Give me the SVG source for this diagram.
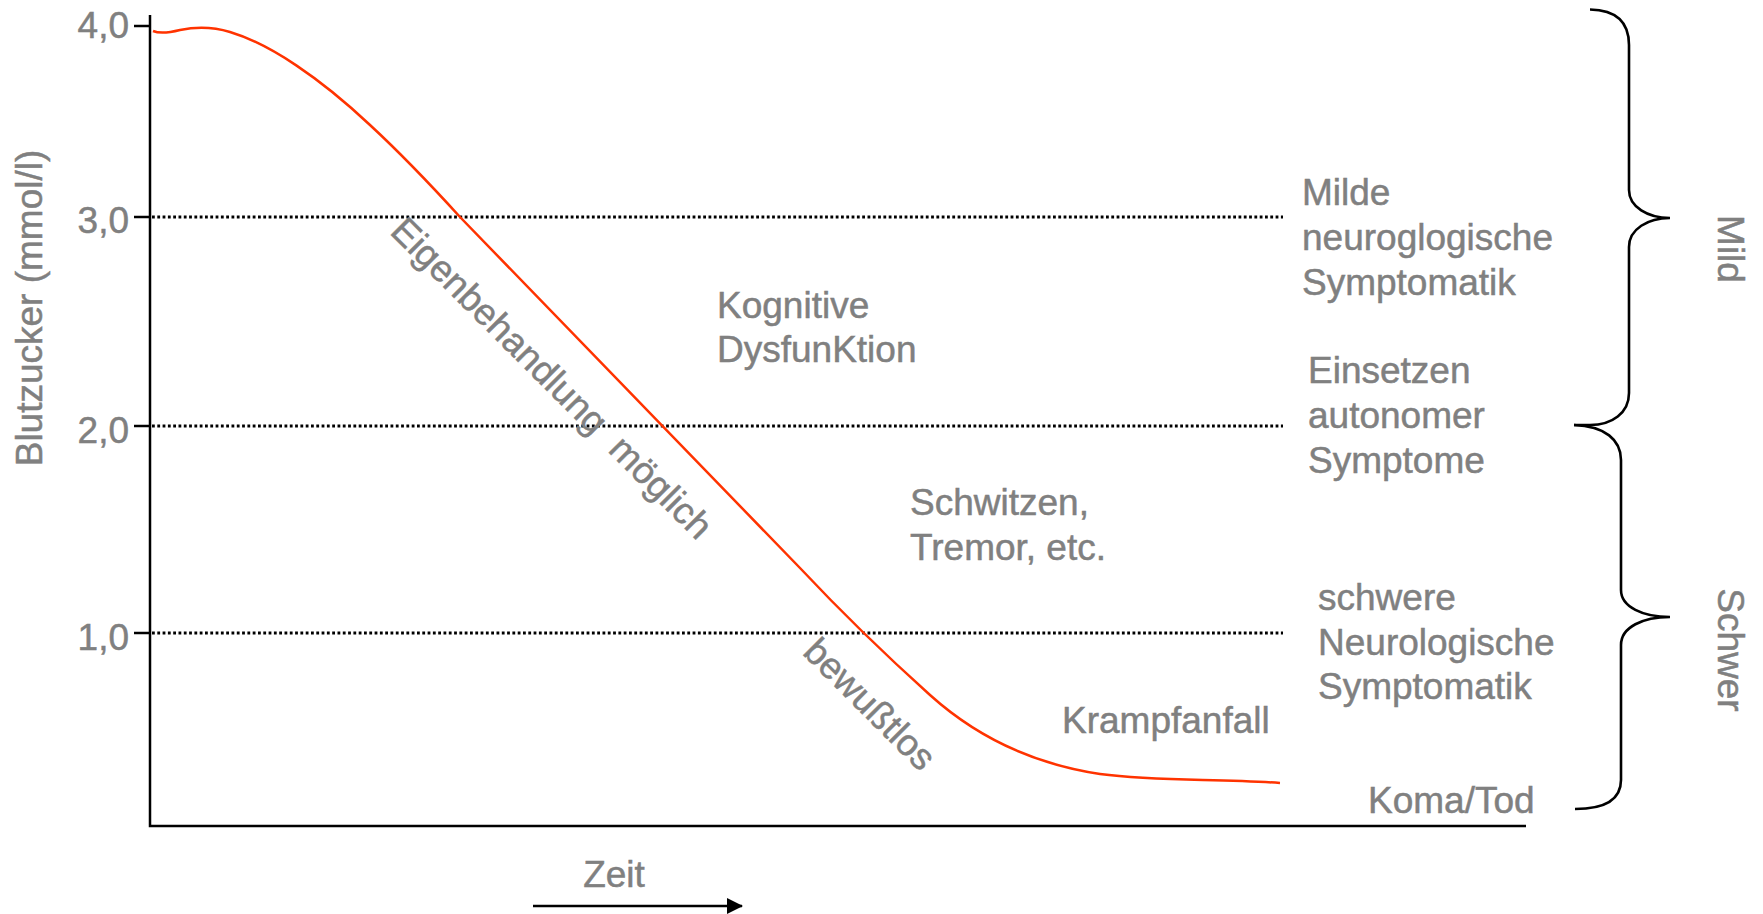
<svg xmlns="http://www.w3.org/2000/svg" width="1763" height="914" viewBox="0 0 1763 914">
<style>
.t{font-family:"Liberation Sans",Arial,Helvetica,sans-serif;font-size:37px;fill:#808080;stroke:#808080;stroke-width:0.5}
.ax{stroke:#000;stroke-width:2.5;fill:none}
.dot{stroke:#000;stroke-width:2.8;stroke-dasharray:2.8 2.5;fill:none}
.br{stroke:#000;stroke-width:2.6;fill:none}
</style>
<defs>
<marker id="ah" markerWidth="16" markerHeight="16" refX="15" refY="8" orient="auto" markerUnits="userSpaceOnUse">
<path d="M0,0 L16,8 L0,16 Z" fill="#000"/>
</marker>
</defs>
<rect width="1763" height="914" fill="#fff"/>
<g id="axes">
<path class="ax" d="M150,15 L150,826 L1526,826"/>
<path class="ax" d="M134,26 L150,26 M134,217 L150,217 M134,426 L150,426 M134,633 L150,633"/>
<text class="t" x="129" y="38" text-anchor="end">4,0</text>
<text class="t" x="129" y="233" text-anchor="end">3,0</text>
<text class="t" x="129" y="443" text-anchor="end">2,0</text>
<text class="t" x="129" y="650" text-anchor="end">1,0</text>
<text class="t" transform="translate(42,308) rotate(-90)" text-anchor="middle">Blutzucker (mmol/l)</text>
</g>
<g id="gridlines">
<path class="dot" d="M152,217 L1283,217 M152,426 L1283,426 M152,633 L1283,633"/>
</g>
<g id="curve">
<path d="M153,31 C160,34 168,33 180,30 C195,27 210,26 230,32 C270,44 320,78 370,125 C410,162 440,195 460,217 L800,568 C830,600 880,650 930,695 C980,740 1040,765 1100,774 C1160,782 1220,778 1280,783" fill="none" stroke="#ff3300" stroke-width="2.5"/>
</g>
<g id="labels">
<text class="t" transform="translate(543,387) rotate(45)" text-anchor="middle" xml:space="preserve">Eigenbehandlung  möglich</text>
<text class="t" transform="translate(861,713) rotate(45)" text-anchor="middle">bewußtlos</text>
<text class="t" x="717" y="318">Kognitive</text>
<text class="t" x="717" y="362">DysfunKtion</text>
<text class="t" x="910" y="515">Schwitzen,</text>
<text class="t" x="910" y="560">Tremor, etc.</text>
<text class="t" x="1062" y="733">Krampfanfall</text>
<text class="t" x="1302" y="205">Milde</text>
<text class="t" x="1302" y="250">neuroglogische</text>
<text class="t" x="1302" y="295">Symptomatik</text>
<text class="t" x="1308" y="383">Einsetzen</text>
<text class="t" x="1308" y="428">autonomer</text>
<text class="t" x="1308" y="473">Symptome</text>
<text class="t" x="1318" y="610">schwere</text>
<text class="t" x="1318" y="655">Neurologische</text>
<text class="t" x="1318" y="699">Symptomatik</text>
<text class="t" x="1368" y="813">Koma/Tod</text>
</g>
<g id="brace-mild">
<path class="br" d="M1590,9.5 C1616,10 1629,22 1629,45 L1629,190 C1629,207 1648,218 1670,218 C1648,218 1629,229 1629,247 L1629,393 C1629,413 1612,425 1590,425 L1574,425"/>
<text class="t" transform="translate(1718,249) rotate(90)" text-anchor="middle">Mild</text>
</g>
<g id="brace-schwer">
<path class="br" d="M1574,425 C1605,426 1621,440 1621,460 L1621,590 C1621,607 1643,617 1670,617 C1643,617 1621,627 1621,645 L1621,780 C1621,800 1605,809 1575,809"/>
<text class="t" transform="translate(1718,650) rotate(90)" text-anchor="middle">Schwer</text>
</g>
<g id="time">
<text class="t" x="614" y="887" text-anchor="middle">Zeit</text>
<line x1="533" y1="906" x2="742" y2="906" stroke="#000" stroke-width="2.5" marker-end="url(#ah)"/>
</g>
</svg>
